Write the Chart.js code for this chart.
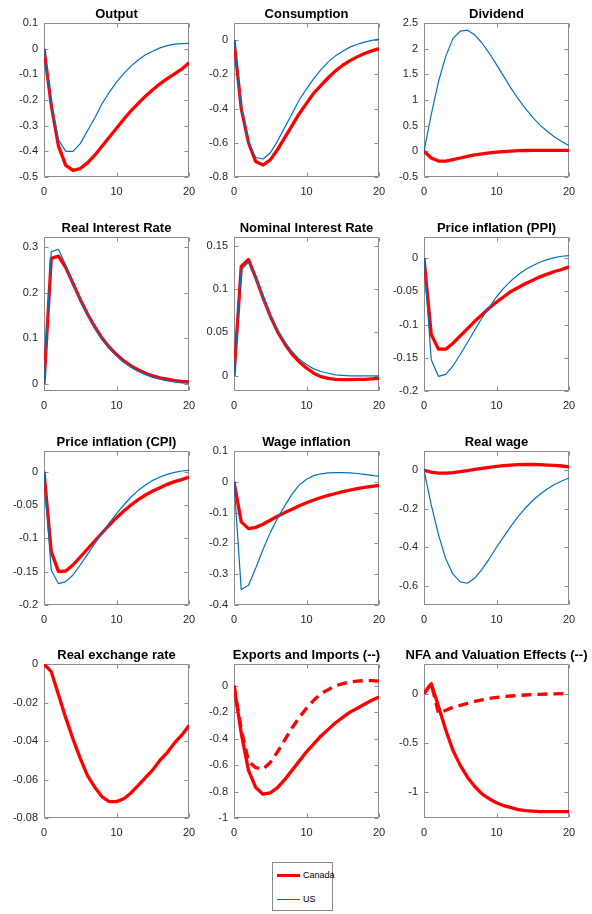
<!DOCTYPE html>
<html>
<head>
<meta charset="utf-8">
<script src="https://cdn.jsdelivr.net/npm/chart.js@4.4.1/dist/chart.umd.min.js"></script>
<style>
  html, body { margin: 0; padding: 0; background: #fff; }
  #fig { position: relative; width: 592px; height: 914px; overflow: hidden; background: #fff; }
  #fig canvas { position: absolute; }
  #legend {
    position: absolute; left: 272px; top: 862px; width: 61px; height: 49px;
    border: 1px solid #8a8a8a; background: #fff; box-sizing: border-box;
    font-family: "Liberation Sans", Arial, sans-serif; font-size: 9px; color: #000;
  }
  #legend .row { position: absolute; left: 0; height: 12px; line-height: 12px; }
  #legend .swatch { position: absolute; left: 4px; width: 23px; top: 6px; }
  #legend .lbl { position: absolute; left: 30px; top: 0; white-space: nowrap; }
</style>
</head>
<body>
<div id="fig">
  <div id="legend">
    <div class="row" style="top:6px"><div class="swatch" style="border-top:3px solid #ff0000;margin-top:-1px"></div><span class="lbl">Canada</span></div>
    <div class="row" style="top:30px"><div class="swatch" style="border-top:1px solid #0072bd"></div><span class="lbl">US</span></div>
  </div>
</div>
<script>
// Impulse responses over 20 quarters: Canada (thick red) and US (thin blue)
const periods = [0, 1, 2, 3, 4, 5, 6, 7, 8, 9, 10, 11, 12, 13, 14, 15, 16, 17, 18, 19, 20];
const xTicks = [0, 10, 20];

const outputCanada = [0, -0.22, -0.38, -0.455, -0.474, -0.467, -0.445, -0.415, -0.38, -0.345, -0.31, -0.275, -0.242, -0.213, -0.185, -0.16, -0.137, -0.117, -0.098, -0.08, -0.055];
const outputUS     = [0, -0.22, -0.355, -0.40, -0.40, -0.37, -0.32, -0.27, -0.215, -0.17, -0.13, -0.097, -0.068, -0.044, -0.024, -0.01, 0.003, 0.012, 0.018, 0.02, 0.021];

const consCanada = [0, -0.40, -0.60, -0.71, -0.73, -0.70, -0.64, -0.57, -0.50, -0.43, -0.37, -0.31, -0.265, -0.22, -0.18, -0.147, -0.12, -0.098, -0.078, -0.063, -0.05];
const consUS     = [0, -0.39, -0.60, -0.686, -0.695, -0.66, -0.59, -0.51, -0.43, -0.35, -0.285, -0.225, -0.173, -0.127, -0.092, -0.065, -0.041, -0.024, -0.012, -0.002, 0.006];

const divCanada = [0, -0.13, -0.19, -0.19, -0.16, -0.13, -0.10, -0.07, -0.05, -0.03, -0.015, -0.005, 0.005, 0.012, 0.016, 0.018, 0.02, 0.02, 0.02, 0.02, 0.02];
const divUS     = [0, 0.72, 1.36, 1.85, 2.2, 2.34, 2.36, 2.27, 2.11, 1.91, 1.69, 1.46, 1.23, 1.02, 0.83, 0.66, 0.51, 0.39, 0.28, 0.19, 0.11];

const realRateCanada = [0, 0.275, 0.28, 0.255, 0.22, 0.185, 0.153, 0.125, 0.10, 0.08, 0.064, 0.05, 0.039, 0.03, 0.023, 0.017, 0.013, 0.01, 0.007, 0.005, 0.004];
const realRateUS     = [0, 0.29, 0.295, 0.26, 0.22, 0.185, 0.152, 0.123, 0.098, 0.078, 0.061, 0.047, 0.036, 0.027, 0.02, 0.014, 0.01, 0.006, 0.004, 0.002, 0.001];

const nomRateCanada = [0, 0.126, 0.134, 0.113, 0.09, 0.069, 0.051, 0.037, 0.025, 0.016, 0.009, 0.003, -0.001, -0.003, -0.004, -0.0045, -0.0045, -0.004, -0.004, -0.0035, -0.003];
const nomRateUS     = [0, 0.122, 0.131, 0.112, 0.09, 0.07, 0.053, 0.039, 0.028, 0.019, 0.013, 0.008, 0.005, 0.003, 0.001, 0.0005, 0, 0, 0, 0, 0];

const ppiCanada = [0, -0.115, -0.137, -0.137, -0.128, -0.117, -0.106, -0.095, -0.085, -0.075, -0.066, -0.058, -0.05, -0.044, -0.038, -0.033, -0.028, -0.024, -0.02, -0.017, -0.013];
const ppiUS     = [0, -0.153, -0.178, -0.175, -0.162, -0.145, -0.127, -0.108, -0.09, -0.074, -0.058, -0.045, -0.034, -0.025, -0.017, -0.011, -0.006, -0.002, 0.001, 0.003, 0.004];

const cpiCanada = [0, -0.12, -0.15, -0.149, -0.14, -0.128, -0.116, -0.104, -0.092, -0.08, -0.069, -0.059, -0.05, -0.042, -0.035, -0.029, -0.024, -0.019, -0.015, -0.012, -0.008];
const cpiUS     = [0, -0.148, -0.168, -0.165, -0.155, -0.14, -0.124, -0.108, -0.092, -0.077, -0.063, -0.05, -0.038, -0.028, -0.02, -0.013, -0.008, -0.004, -0.001, 0.001, 0.002];

const wageInfCanada = [0, -0.13, -0.152, -0.148, -0.138, -0.125, -0.112, -0.10, -0.089, -0.078, -0.068, -0.059, -0.051, -0.044, -0.038, -0.032, -0.027, -0.022, -0.018, -0.015, -0.012];
const wageInfUS     = [0, -0.35, -0.336, -0.28, -0.22, -0.165, -0.118, -0.078, -0.04, -0.01, 0.008, 0.02, 0.026, 0.029, 0.03, 0.03, 0.029, 0.027, 0.024, 0.021, 0.018];

const realWageCanada = [0, -0.01, -0.015, -0.015, -0.012, -0.007, -0.002, 0.004, 0.01, 0.015, 0.02, 0.024, 0.027, 0.029, 0.03, 0.03, 0.029, 0.027, 0.025, 0.022, 0.018];
const realWageUS     = [0, -0.18, -0.335, -0.46, -0.54, -0.58, -0.587, -0.56, -0.515, -0.46, -0.40, -0.345, -0.29, -0.24, -0.195, -0.157, -0.125, -0.097, -0.074, -0.056, -0.04];

const rerCanada = [0, -0.004, -0.016, -0.028, -0.039, -0.049, -0.058, -0.064, -0.069, -0.0715, -0.0715, -0.07, -0.067, -0.063, -0.059, -0.055, -0.05, -0.046, -0.041, -0.037, -0.032];

const exportsCanada = [0, -0.36, -0.64, -0.77, -0.82, -0.81, -0.77, -0.71, -0.64, -0.57, -0.50, -0.44, -0.38, -0.33, -0.28, -0.24, -0.20, -0.17, -0.14, -0.11, -0.085];
const importsCanada = [0, -0.33, -0.57, -0.62, -0.63, -0.58, -0.50, -0.41, -0.32, -0.24, -0.17, -0.11, -0.06, -0.03, 0.0, 0.015, 0.028, 0.035, 0.038, 0.038, 0.035];

const nfaCanada       = [0, 0.1, -0.13, -0.37, -0.58, -0.73, -0.85, -0.945, -1.02, -1.07, -1.11, -1.14, -1.16, -1.18, -1.19, -1.195, -1.2, -1.2, -1.2, -1.2, -1.2];
const valuationCanada = [0, 0.1, -0.2, -0.17, -0.14, -0.12, -0.10, -0.08, -0.065, -0.05, -0.04, -0.03, -0.025, -0.02, -0.015, -0.01, -0.008, -0.005, -0.003, -0.002, 0];

// y-axis tick labels per panel
const ticksOutput   = [-0.5, -0.4, -0.3, -0.2, -0.1, 0, 0.1];
const ticksCons     = [-0.8, -0.6, -0.4, -0.2, 0];
const ticksDiv      = [-0.5, 0, 0.5, 1, 1.5, 2, 2.5];
const ticksRealRate = [0, 0.1, 0.2, 0.3];
const ticksNomRate  = [0, 0.05, 0.1, 0.15];
const ticksPPI      = [-0.2, -0.15, -0.1, -0.05, 0];
const ticksCPI      = [-0.2, -0.15, -0.1, -0.05, 0];
const ticksWageInf  = [-0.4, -0.3, -0.2, -0.1, 0, 0.1];
const ticksRealWage = [-0.6, -0.4, -0.2, 0];
const ticksRER      = [-0.08, -0.06, -0.04, -0.02, 0];
const ticksTrade    = [-1, -0.8, -0.6, -0.4, -0.2, 0];
const ticksNFA      = [-1, -0.5, 0];

const RED = '#ff0000';
const BLUE = '#0072bd';
const FRAME = '#8c8c8c';
const TEXT = '#262626';
const FONT = '"Liberation Sans", Arial, Helvetica, sans-serif';

const canada = (data, dash) => ({ data, color: RED, width: 3.3, dash: dash || [], order: 1 });
const us = (data) => ({ data, color: BLUE, width: 1.2, dash: [], order: 0 });

const panels = [
  { title: 'Output', ymin: -0.5, ymax: 0.1, ticks: ticksOutput, series: [canada(outputCanada), us(outputUS)] },
  { title: 'Consumption', ymin: -0.8, ymax: 0.1, ticks: ticksCons, series: [canada(consCanada), us(consUS)] },
  { title: 'Dividend', ymin: -0.5, ymax: 2.5, ticks: ticksDiv, series: [canada(divCanada), us(divUS)] },
  { title: 'Real Interest Rate', ymin: -0.016, ymax: 0.322, ticks: ticksRealRate, series: [canada(realRateCanada), us(realRateUS)] },
  { title: 'Nominal Interest Rate', ymin: -0.0175, ymax: 0.16, ticks: ticksNomRate, series: [canada(nomRateCanada), us(nomRateUS)] },
  { title: 'Price inflation (PPI)', ymin: -0.2, ymax: 0.032, ticks: ticksPPI, series: [canada(ppiCanada), us(ppiUS)] },
  { title: 'Price inflation (CPI)', ymin: -0.2, ymax: 0.031, ticks: ticksCPI, series: [canada(cpiCanada), us(cpiUS)] },
  { title: 'Wage inflation', ymin: -0.4, ymax: 0.1, ticks: ticksWageInf, series: [canada(wageInfCanada), us(wageInfUS)] },
  { title: 'Real wage', ymin: -0.7, ymax: 0.1, ticks: ticksRealWage, series: [canada(realWageCanada), us(realWageUS)] },
  { title: 'Real exchange rate', ymin: -0.08, ymax: 0, ticks: ticksRER, series: [canada(rerCanada)] },
  { title: 'Exports and Imports (--)', ymin: -1, ymax: 0.164, ticks: ticksTrade, series: [canada(exportsCanada), canada(importsCanada, [10, 6])] },
  { title: 'NFA and Valuation Effects (--)', ymin: -1.265, ymax: 0.3, ticks: ticksNFA, series: [canada(nfaCanada), canada(valuationCanada, [10, 6])] }
];

// subplot geometry (plot box positions in the figure)
const colLeft = [44, 234, 424];
const rowTop = [23, 237, 451, 664];
const PLOT_W = 145, PLOT_H = 154;
const AXIS_W = 44, AXIS_H = 22, TITLE_H = 23;
const TICK_LEN = 4;

// axes box with inward tick marks on all four sides
const boxTicks = {
  id: 'boxTicks',
  beforeDatasetsDraw(chart) {
    const { ctx, chartArea: a, scales } = chart;
    const L = a.left + 0.5, R = a.right - 0.5, T = a.top + 0.5, B = a.bottom - 0.5;
    ctx.save();
    ctx.strokeStyle = FRAME;
    ctx.lineWidth = 1;
    ctx.beginPath();
    ctx.rect(L, T, R - L, B - T);
    scales.x.ticks.forEach(t => {
      const px = Math.round(scales.x.getPixelForValue(t.value)) + 0.5;
      ctx.moveTo(px, B); ctx.lineTo(px, B - TICK_LEN);
      ctx.moveTo(px, T); ctx.lineTo(px, T + TICK_LEN);
    });
    scales.y.ticks.forEach(t => {
      const py = Math.round(scales.y.getPixelForValue(t.value)) + 0.5;
      ctx.moveTo(L, py); ctx.lineTo(L + TICK_LEN, py);
      ctx.moveTo(R, py); ctx.lineTo(R - TICK_LEN, py);
    });
    ctx.stroke();
    ctx.restore();
  }
};

const fig = document.getElementById('fig');

panels.forEach((p, i) => {
  const col = i % 3, row = Math.floor(i / 3);
  const cv = document.createElement('canvas');
  // equal margins on both sides so the full-width title is centred over the plot box
  const w = AXIS_W + PLOT_W + AXIS_W;
  const h = TITLE_H + PLOT_H + AXIS_H;
  cv.width = w; cv.height = h;
  cv.style.left = (colLeft[col] - AXIS_W) + 'px';
  cv.style.top = (rowTop[row] - TITLE_H) + 'px';
  cv.style.width = w + 'px'; cv.style.height = h + 'px';
  fig.appendChild(cv);

  const yTickValues = p.ticks;
  new Chart(cv, {
    type: 'line',
    data: {
      datasets: p.series.map(s => ({
        data: periods.map((t, k) => ({ x: t, y: s.data[k] })),
        borderColor: s.color,
        borderWidth: s.width,
        borderDash: s.dash,
        borderJoinStyle: 'round',
        borderCapStyle: 'butt',
        pointRadius: 0,
        tension: 0,
        fill: false,
        order: s.order,
        xAxisID: 'x',
        yAxisID: 'y'
      }))
    },
    options: {
      responsive: false,
      animation: false,
      devicePixelRatio: 1,
      layout: { padding: 0 },
      plugins: {
        legend: { display: false },
        tooltip: { enabled: false },
        title: {
          display: true,
          text: p.title,
          color: '#000',
          font: { family: FONT, size: 13, weight: 'bold', lineHeight: '16px' },
          padding: { top: 6, bottom: 1 }
        }
      },
      scales: {
        x: {
          type: 'linear',
          min: 0, max: 20,
          afterBuildTicks: s => { s.ticks = xTicks.map(v => ({ value: v })); },
          afterFit: s => { s.height = AXIS_H; },
          grid: { display: false, drawTicks: false, tickLength: 0 },
          border: { display: false },
          ticks: { autoSkip: false, maxRotation: 0, padding: 8, color: TEXT, font: { family: FONT, size: 11 }, callback: v => String(v) }
        },
        y: {
          type: 'linear',
          position: 'left',
          min: p.ymin, max: p.ymax,
          afterBuildTicks: s => { s.ticks = yTickValues.map(v => ({ value: v })); },
          afterFit: s => { s.width = AXIS_W; },
          grid: { display: false, drawTicks: false, tickLength: 0 },
          border: { display: false },
          ticks: { autoSkip: false, padding: 6, color: TEXT, font: { family: FONT, size: 11 }, callback: v => String(v) }
        },
        // empty right-hand axis: reserves a margin equal to the left one
        yRight: {
          type: 'linear',
          position: 'right',
          min: p.ymin, max: p.ymax,
          afterBuildTicks: s => { s.ticks = []; },
          afterFit: s => { s.width = AXIS_W; },
          grid: { display: false, drawTicks: false, tickLength: 0 },
          border: { display: false },
          ticks: { display: false }
        }
      }
    },
    plugins: [boxTicks]
  });
});
</script>
</body>
</html>
